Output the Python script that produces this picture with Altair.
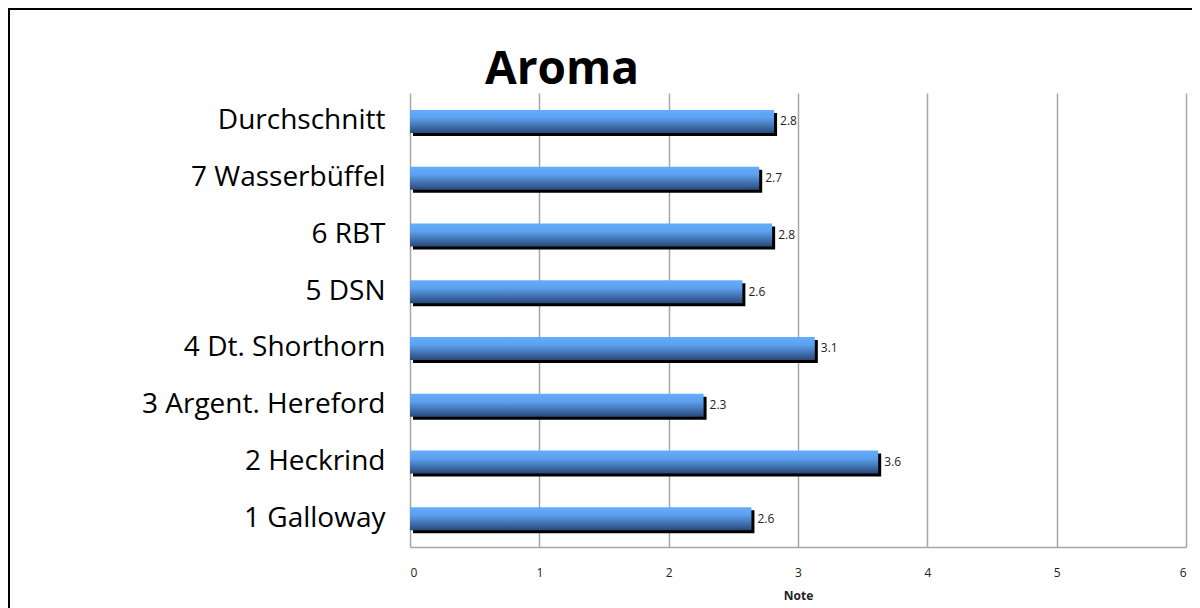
import altair as alt
import pandas as pd

categories = ["Durchschnitt", "7 Wasserbüffel", "6 RBT", "5 DSN", "4 Dt. Shorthorn",
              "3 Argent. Hereford", "2 Heckrind", "1 Galloway"]
values = [2.815, 2.70, 2.80, 2.57, 3.13, 2.27, 3.62, 2.64]
x_ticks = [0, 1, 2, 3, 4, 5, 6]

df = pd.DataFrame({"cat": categories, "val": values})

FONT = "Open Sans"
W, H = 776, 454

y_enc = alt.Y("cat:N", sort=categories, title=None,
              axis=alt.Axis(labelFontSize=28, labelFont=FONT, labelColor="black",
                            labelPadding=25, labelLimit=500, ticks=False, domain=False,
                            grid=False))
x_enc = alt.X("val:Q", title="Note", scale=alt.Scale(domain=[0, 6], nice=False),
              axis=alt.Axis(values=x_ticks, format="d", ticks=False, labelFontSize=12,
                            labelFont=FONT, labelColor="#222", labelPadding=20,
                            grid=True, gridColor="#A6A6A6", gridWidth=1.5,
                            domainColor="#A6A6A6", domainWidth=1.5,
                            titleFontSize=12, titleFont=FONT, titleFontWeight="bold",
                            titlePadding=12, titleColor="#222"))

base = alt.Chart(df)

border = alt.Chart(alt.Data(values=[{"a": 1}])).mark_rect(
    filled=False, stroke="black", strokeWidth=2
).encode(x=alt.value(-401), x2=alt.value(800), y=alt.value(-84), y2=alt.value(600))

shadow = base.mark_bar(size=23, color="black", xOffset=3, x2Offset=3,
                       yOffset=3).encode(x=x_enc, y=y_enc)

bars = base.mark_bar(
    size=23,
    color=alt.Gradient(
        gradient="linear", x1=0, x2=0, y1=0, y2=1,
        stops=[alt.GradientStop(offset=0, color="#64ACFC"),
               alt.GradientStop(offset=0.35, color="#5CA0EE"),
               alt.GradientStop(offset=1, color="#2A4A7A")],
    ),
).encode(x=x_enc, y=y_enc)

labels = base.mark_text(align="left", baseline="middle", dx=6, fontSize=12,
                        font=FONT, color="#222").encode(
    x="val:Q", y=alt.Y("cat:N", sort=categories), text=alt.Text("val:Q", format=".1f"))

chart = alt.layer(border, shadow, bars, labels).properties(
    width=W, height=H,
    background="white",
    autosize=alt.AutoSizeParams(type="none"),
    padding={"left": 402, "top": 85, "right": 6, "bottom": 61},
    title=alt.TitleParams("Aroma", font=FONT, fontSize=46, fontWeight="bold",
                          color="black", anchor="middle", dx=-236, dy=45, offset=-77,
                          baseline="alphabetic"),
).configure_view(stroke=None, strokeWidth=0)

chart.save("out.html", embed_options={"renderer": "svg", "actions": False})
